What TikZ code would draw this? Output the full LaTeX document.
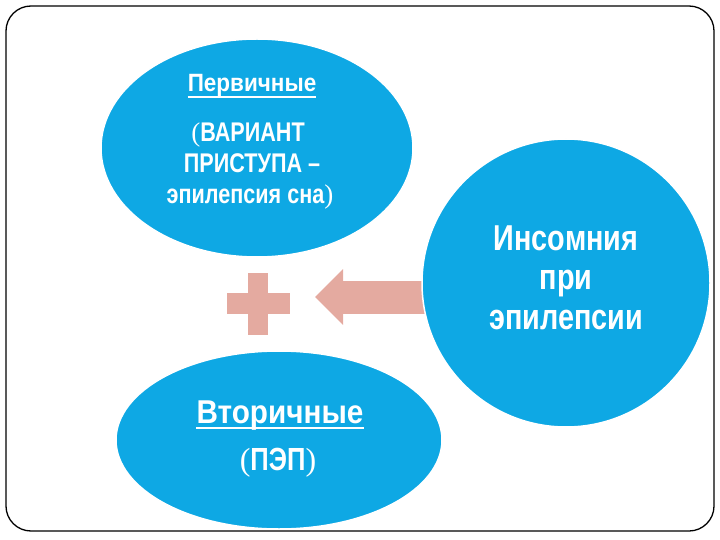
\documentclass[tikz,border=0pt]{standalone}
\usepackage{fontspec}
\setmainfont[FakeStretch=0.8]{Liberation Sans}
\newfontfamily\titlesans[FakeStretch=0.9]{Liberation Sans}
\newfontfamily\parenfont{Liberation Serif}
\usetikzlibrary{shapes.geometric,arrows.meta,backgrounds}

\definecolor{bubbleblue}{RGB}{14,168,228}
\definecolor{arrowpink}{RGB}{228,170,160}

\tikzset{
    bubble/.style={ellipse, fill=bubbleblue, draw=white, line width=1.5, inner sep=0},
    whitetext/.style={text=white, inner sep=0, anchor=base},
    underbar/.style={white, line width=1.8},
}
\newcommand{\lpar}{{\parenfont\mdseries(}}
\newcommand{\rpar}{{\parenfont\mdseries)}}

\begin{document}
\begin{tikzpicture}[x=1pt, y=-1pt]
    \useasboundingbox (0,0) rectangle (720,540);
    \draw[line width=1.3, rounded corners=25] (6,6) rectangle (714,531);

    % bubbles
    \node[bubble, minimum width=312, minimum height=218] (prim) at (257,148) {};
    \node[bubble, circle, minimum size=288] (ins) at (566,283) {};
    \node[bubble, minimum width=326, minimum height=178] (sec) at (279,440) {};

    % plus sign
    \fill[arrowpink] (227,293) rectangle (290,314);
    \fill[arrowpink] (248,273) rectangle (268,335);

    % arrow
    \coordinate (tip) at (315,297);
    \begin{scope}[on background layer]
        \draw[arrowpink, line width=33, -{Triangle[length=28, width=54]}] (ins.center |- tip) -- (tip);
    \end{scope}

    % texts
    \node[whitetext, font={\titlesans\fontsize{25}{28}\selectfont\bfseries}] (prim-title) at (252,92) {Первичные};
    \draw[underbar] ([yshift=-5]prim-title.base west) -- ([yshift=-5]prim-title.base east);
    \node[whitetext, font={\fontsize{27}{30}\selectfont\bfseries}] (prim-l1) at (248,142) {\lpar ВАРИАНТ};
    \node[whitetext, font={\fontsize{27}{30}\selectfont\bfseries}] (prim-l2) at (252,173) {ПРИСТУПА –};
    \node[whitetext, font={\fontsize{27}{30}\selectfont\bfseries}] (prim-l3) at (250,204) {эпилепсия сна\rpar};

    \node[whitetext, font={\fontsize{36}{40}\selectfont\bfseries}] (ins-l1) at (566,250) {Инсомния};
    \node[whitetext, font={\fontsize{36}{40}\selectfont\bfseries}] (ins-l2) at (566,289) {при};
    \node[whitetext, font={\fontsize{36}{40}\selectfont\bfseries}] (ins-l3) at (566,329) {эпилепсии};

    \node[whitetext, font={\titlesans\fontsize{33}{36}\selectfont\bfseries}] (sec-title) at (280,423) {Вторичные};
    \draw[underbar, line width=2.2] ([yshift=-5]sec-title.base west) -- ([yshift=-5]sec-title.base east);
    \node[whitetext, font={\fontsize{32}{36}\selectfont\bfseries}] (sec-l1) at (278,470) {\lpar ПЭП\rpar};
\end{tikzpicture}
\end{document}
